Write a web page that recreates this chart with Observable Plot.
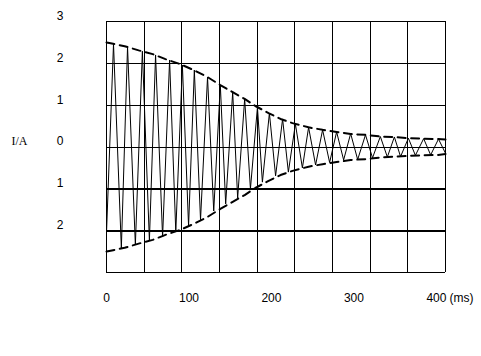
<!DOCTYPE html>
<html><head><meta charset="utf-8">
<script src="https://cdn.jsdelivr.net/npm/d3@7"></script>
<script src="https://cdn.jsdelivr.net/npm/@observablehq/plot@0.6"></script>
<style>html,body{margin:0;padding:0;background:#fff;}</style>
</head><body><div id="chart"></div>
<script>
// axis setup
const xDomain = [0, 411];
const yDomain = [-3, 3];
const xTicks = [0, 100, 200, 300, 400];
const yTicks = [3, 2, 1, 0, -1, -2];
const yGrid = [-3, -2, -1, 0, 1, 2, 3];
const yThick = [-1, -2];
const gridColumns = 9;

// oscillating current (ms, A) – turning points
const waveT = [0, 8.5, 18, 25.5, 35, 43.5, 52, 59.5, 68, 76.5, 84, 92, 99.5, 106.5, 114, 122.5, 130, 138, 144.5, 153, 159, 167.5, 174.5, 183, 189, 197.5, 205, 213.5, 220.5, 229, 237.5, 245, 253.5, 262, 270.5, 279, 287.5, 296, 304.5, 314, 322.5, 332, 340.5, 349, 356.5, 366, 374.5, 384.5, 393, 402.5, 411];
const waveI = [-2.05, 2.46, -2.42, 2.39, -2.34, 2.29, -2.24, 2.20, -2.15, 2.08, -2.03, 1.96, -1.89, 1.84, -1.74, 1.67, -1.53, 1.48, -1.36, 1.31, -1.22, 1.15, -1.00, 0.95, -0.84, 0.81, -0.69, 0.67, -0.60, 0.55, -0.50, 0.47, -0.43, 0.41, -0.37, 0.36, -0.31, 0.32, -0.30, 0.29, -0.26, 0.25, -0.24, 0.24, -0.23, 0.21, -0.20, 0.20, -0.19, 0.19, -0.15];

// dashed envelope
const envT = [0, 5, 22, 39, 56, 71.5, 89.5, 105.5, 121, 138, 153, 167.5, 180.5, 196.5, 211, 225.5, 245, 262, 279, 296, 314, 332, 348, 366, 383, 401.5, 411];
const envUpper = [2.50, 2.48, 2.41, 2.31, 2.22, 2.10, 1.98, 1.84, 1.69, 1.48, 1.31, 1.15, 0.98, 0.81, 0.67, 0.57, 0.47, 0.41, 0.36, 0.31, 0.29, 0.25, 0.24, 0.21, 0.20, 0.19, 0.18];
const envLower = [-2.50, -2.48, -2.41, -2.31, -2.22, -2.10, -1.98, -1.84, -1.69, -1.48, -1.31, -1.15, -0.98, -0.81, -0.67, -0.57, -0.47, -0.41, -0.36, -0.31, -0.29, -0.25, -0.23, -0.21, -0.20, -0.19, -0.17];

const wave = waveT.map((t, i) => ({t, v: waveI[i]}));
const env = envT.map((t, i) => ({t, up: envUpper[i], lo: envLower[i]}));
const gridX = d3.range(gridColumns + 1).map(i => xDomain[0] + i * (xDomain[1] - xDomain[0]) / gridColumns);

const sans = "Liberation Sans, Arial, sans-serif";
const serif = "Liberation Serif, Times New Roman, serif";

const chart = Plot.plot({
  width: 481, height: 356,
  marginLeft: 106, marginRight: 36, marginTop: 21, marginBottom: 84,
  x: {domain: xDomain, axis: null},
  y: {domain: yDomain, axis: null},
  style: {background: "#fff", fontFamily: sans, fontSize: "12px", color: "#000"},
  marks: [
    Plot.ruleX(gridX, {stroke: "#000", strokeWidth: 1, strokeOpacity: 1, shapeRendering: "crispEdges"}),
    Plot.ruleY(yGrid, {stroke: "#000", strokeWidth: 1, strokeOpacity: 1, shapeRendering: "crispEdges"}),
    Plot.ruleY(yThick, {stroke: "#000", strokeWidth: 2, strokeOpacity: 1, shapeRendering: "crispEdges"}),
    Plot.line(wave, {x: "t", y: "v", stroke: "#000", strokeWidth: 1}),
    Plot.line(env, {x: "t", y: "up", stroke: "#000", strokeWidth: 2, strokeDasharray: "8,5.5"}),
    Plot.line(env, {x: "t", y: "lo", stroke: "#000", strokeWidth: 2, strokeDasharray: "8,5.5"}),
    Plot.text(yTicks, {y: d => d, text: d => String(Math.abs(d)), frameAnchor: "left", dx: -43, dy: -5.5, textAnchor: "end", fill: "#000", fontFamily: sans, fontSize: 12}),
    Plot.text(xTicks, {x: d => d, text: d => String(d), frameAnchor: "bottom", dy: 29.5, textAnchor: "middle", fill: "#000", fontFamily: sans, fontSize: 12}),
    Plot.text(["(ms)"], {x: [xTicks[xTicks.length - 1]], text: d => d, frameAnchor: "bottom", dy: 29.5, dx: 13, textAnchor: "start", fill: "#000", fontFamily: sans, fontSize: 12}),
    Plot.text(["I/A"], {y: [0], text: d => d, frameAnchor: "left", dx: -87, dy: -5.5, textAnchor: "middle", fill: "#000", fontFamily: serif, fontSize: 12})
  ]
});
document.getElementById("chart").appendChild(chart);
</script>
</body></html>
